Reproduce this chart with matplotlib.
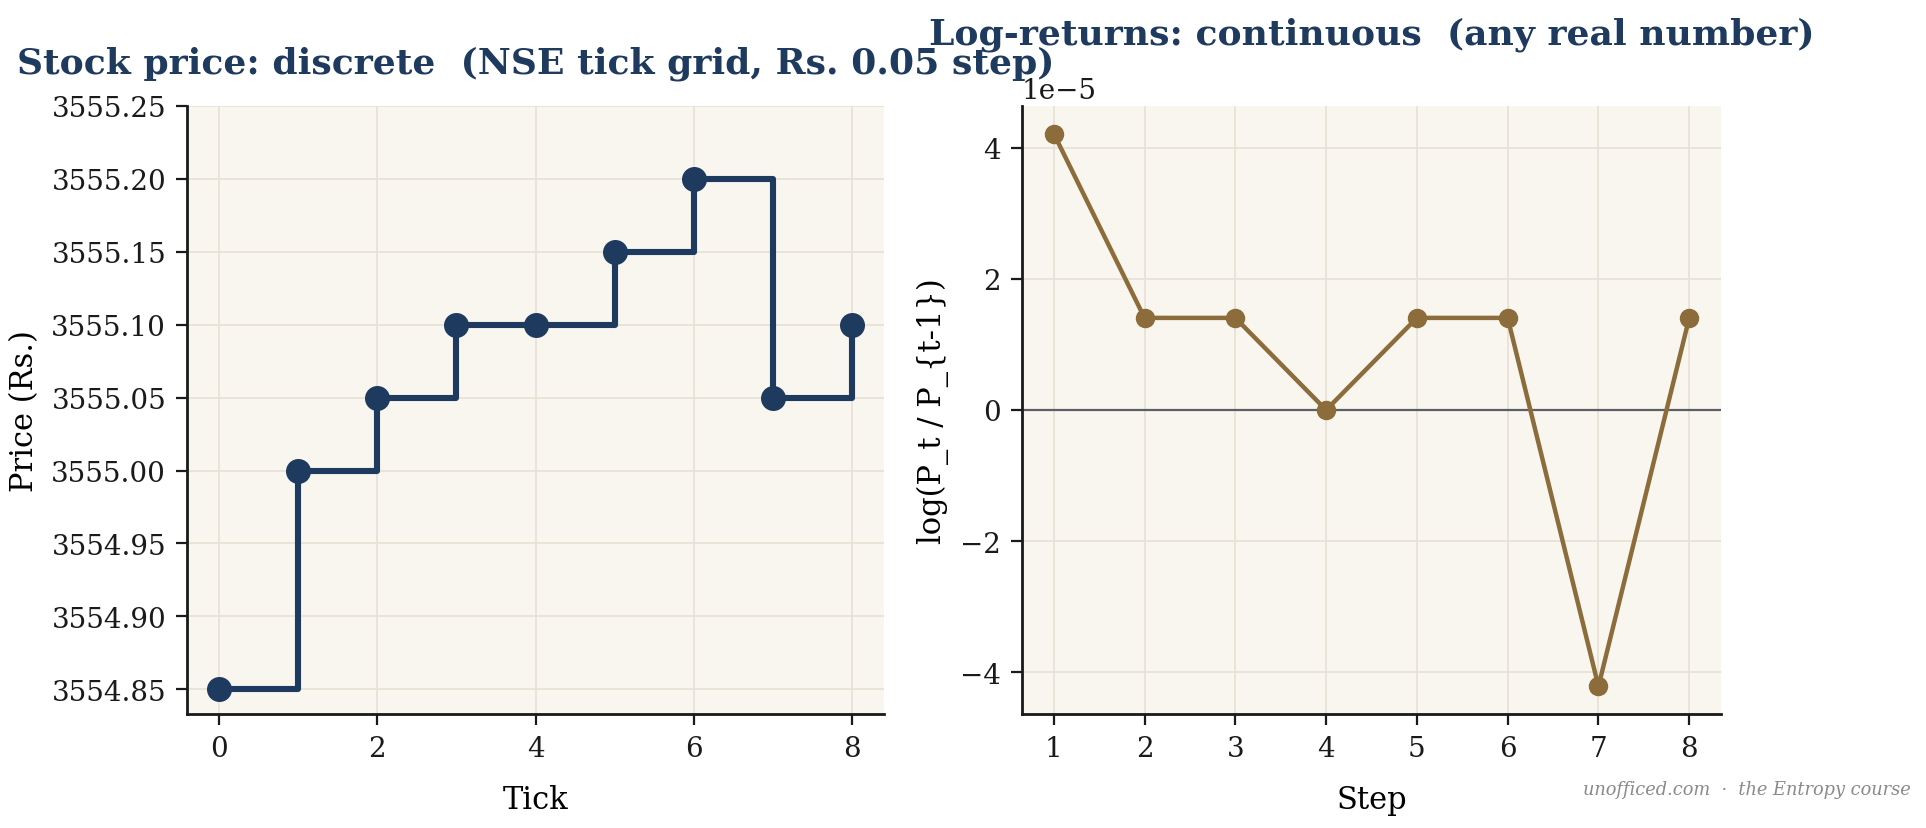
import numpy as np
import matplotlib
matplotlib.use("Agg")
import matplotlib.pyplot as plt
from matplotlib.ticker import FormatStrFormatter

plt.rcParams['font.family'] = ['DejaVu Serif']

ticks = [0, 1, 2, 3, 4, 5, 6, 7, 8]
prices = [3554.85, 3555.00, 3555.05, 3555.10, 3555.10, 3555.15, 3555.20, 3555.05, 3555.10]
steps = [1, 2, 3, 4, 5, 6, 7, 8]
log_returns = [4.219e-5, 1.406e-5, 1.406e-5, 0.0, 1.406e-5, 1.406e-5, -4.219e-5, 1.406e-5]

navy = '#1f3a5f'
brown = '#8b6c3a'
bg = '#f9f6ef'
gridc = '#e6e1d3'

fig = plt.figure(figsize=(9.63, 4.145), dpi=200)
ax1 = fig.add_axes([187/1926, 1-715/829, 697/1926, 608/829])
ax2 = fig.add_axes([1022/1926, 1-715/829, 699/1926, 608/829])

for ax in (ax1, ax2):
    ax.set_facecolor(bg)
    ax.grid(True, color=gridc, linewidth=0.6)
    ax.set_axisbelow(True)
    for s in ('top', 'right'):
        ax.spines[s].set_visible(False)
    for s in ('left', 'bottom'):
        ax.spines[s].set_color('#1a1a1a')
        ax.spines[s].set_linewidth(1.0)
    ax.tick_params(labelsize=10, colors='#1a1a1a', length=4)

ax1.step(ticks, prices, where='post', color=navy, linewidth=2.2)
ax1.plot(ticks, prices, 'o', color=navy, markersize=8)
ax1.set_ylim(3554.833, 3555.25)
ax1.set_yticks(np.arange(3554.85, 3555.26, 0.05))
ax1.yaxis.set_major_formatter(FormatStrFormatter('%.2f'))
ax1.set_xticks([0, 2, 4, 6, 8])
ax1.set_xlabel('Tick', fontsize=11, labelpad=8)
ax1.set_ylabel('Price (Rs.)', fontsize=11)
ax1.set_title('Stock price: discrete  (NSE tick grid, Rs. 0.05 step)',
              fontsize=13, fontweight='bold', color=navy, pad=12)

ax2.axhline(0, color='#5c6066', linewidth=0.8, zorder=1)
ax2.plot(steps, log_returns, '-o', color=brown, linewidth=1.6, markersize=6)
ax2.set_xticks(steps)
ax2.set_xlabel('Step', fontsize=11, labelpad=8)
ax2.set_ylabel('log(P_t / P_{t-1})', fontsize=11)
ax2.yaxis.get_offset_text().set_fontsize(10)
ax2.set_title('Log-returns: continuous  (any real number)',
              fontsize=13, fontweight='bold', color=navy, pad=12)

fig.text(0.992, 0.047, 'unofficed.com  \u00b7  the Entropy course', ha='right',
         va='center', fontsize=6.4, style='italic', color='#8a8a8a')

fig.savefig('out.png', dpi=200)
